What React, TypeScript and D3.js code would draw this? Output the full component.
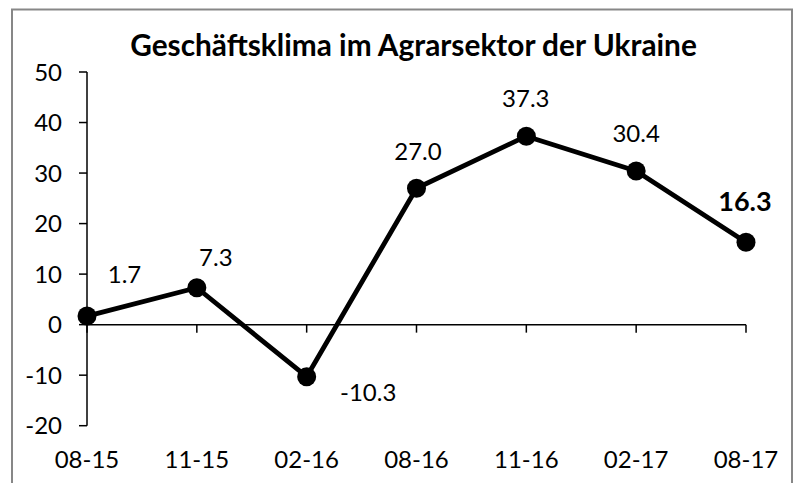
import React from "react";
import * as d3 from "d3";

const categories = ["08-15", "11-15", "02-16", "08-16", "11-16", "02-17", "08-17"];
const values = [1.7, 7.3, -10.3, 27.0, 37.3, 30.4, 16.3];
const yTicks = [-20, -10, 0, 10, 20, 30, 40, 50];
const title = "Geschäftsklima im Agrarsektor der Ukraine";
// label placement relative to each point (dx, dy to baseline)
const labelOffsets: [number, number][] = [
  [37.5, -33],
  [19, -21.5],
  [61.5, 24],
  [1.5, -28.5],
  [-0.5, -29.6],
  [0, -29],
  [-1, -31.4],
];

const W = 795;
const H = 483;
const FONT = "Lato, 'Open Sans', sans-serif";

export default function App() {
  const x = d3.scalePoint<string>().domain(categories).range([87, 746]);
  const y = d3.scaleLinear().domain([-20, 50]).range([425.7, 72]);
  const line = d3
    .line<number>()
    .x((_, i) => x(categories[i]) as number)
    .y((d) => y(d));
  const last = values.length - 1;

  return (
    <svg
      width={W}
      height={H}
      style={{ position: "fixed", left: 0, top: 0, background: "#fff" }}
      fontFamily={FONT}
    >
      <rect x={0} y={0} width={W} height={H} fill="#fff" />
      {/* chart frame */}
      <rect x={12} y={9.5} width={780} height={500} fill="none" stroke="#878787" strokeWidth={2} />
      <text x={413.5} y={56} textAnchor="middle" fontSize={29.8} fontWeight={700} fill="#000">
        {title}
      </text>
      {/* y axis */}
      <line x1={87} x2={87} y1={y(50)} y2={y(-20)} stroke="#000" strokeWidth={1.5} />
      {yTicks.map((t) => (
        <g key={t}>
          <line x1={79} x2={87} y1={y(t)} y2={y(t)} stroke="#000" strokeWidth={1.5} />
          <text x={62} y={y(t) + 8.5} textAnchor="end" fontSize={24} fill="#000">
            {t}
          </text>
        </g>
      ))}
      {/* x axis */}
      <line x1={87} x2={746} y1={y(0)} y2={y(0)} stroke="#000" strokeWidth={1.5} />
      {categories.map((c) => (
        <g key={c}>
          <line x1={x(c)} x2={x(c)} y1={y(0)} y2={y(0) + 8} stroke="#000" strokeWidth={1.5} />
          <text x={x(c)} y={468} textAnchor="middle" fontSize={24} fill="#000">
            {c}
          </text>
        </g>
      ))}
      {/* series */}
      <path d={line(values) || ""} fill="none" stroke="#000" strokeWidth={4.8} strokeLinejoin="round" />
      {values.map((v, i) => (
        <circle key={i} cx={x(categories[i])} cy={y(v)} r={9.5} fill="#000" />
      ))}
      {values.map((v, i) => (
        <text
          key={"l" + i}
          x={(x(categories[i]) as number) + labelOffsets[i][0]}
          y={y(v) + labelOffsets[i][1]}
          textAnchor="middle"
          fontSize={i === last ? 27 : 24}
          fontWeight={i === last ? 700 : 400}
          fill="#000"
        >
          {v.toFixed(1)}
        </text>
      ))}
    </svg>
  );
}
